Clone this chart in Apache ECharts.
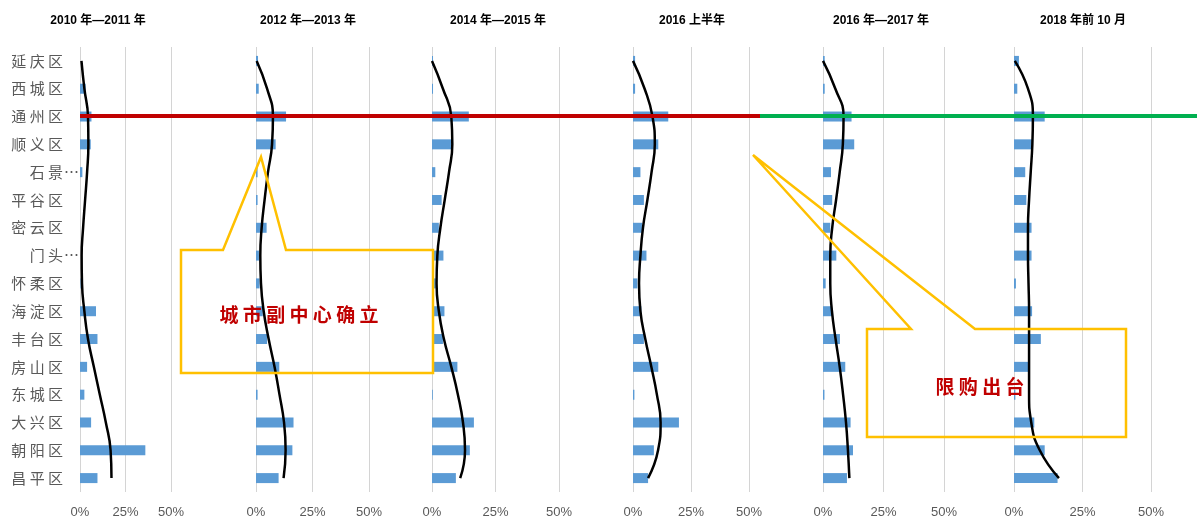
<!DOCTYPE html>
<html>
<head>
<meta charset="utf-8">
<script src="https://cdn.jsdelivr.net/npm/echarts@6.0.0/dist/echarts.min.js"></script>
<style>
  html, body { margin: 0; padding: 0; background: #fff; }
  #main { width: 1203px; height: 527px; }
</style>
</head>
<body>
<div id="main"></div>
<script>
// 各区成交占比（%），从上到下
var districts = ['延庆区', '西城区', '通州区', '顺义区', '石景山区', '平谷区', '密云区', '门头沟区',
  '怀柔区', '海淀区', '丰台区', '房山区', '东城区', '大兴区', '朝阳区', '昌平区'];
var periods = ['2010 年—2011 年', '2012 年—2013 年', '2014 年—2015 年', '2016 上半年', '2016 年—2017 年', '2018 年前 10 月'];
var xTicks = [0, 25, 50];

// 柱子
var share1011 = [0, 3.1, 6.3, 5.9, 1.3, 0, 0, 0, 0.3, 8.8, 9.6, 3.9, 2.4, 6.1, 35.9, 9.6];
var share1213 = [0.9, 1.2, 13.3, 8.7, 0.7, 0.7, 4.7, 1.3, 1.6, 3.0, 4.9, 10.3, 0.7, 16.6, 16.1, 10.0];
var share1415 = [0.4, 0.4, 14.5, 8.2, 1.3, 3.8, 2.7, 4.5, 1.5, 4.9, 4.3, 10.0, 0.3, 16.5, 14.9, 9.4];
var share16h1 = [0.9, 0.9, 15.2, 10.9, 3.2, 4.7, 4.0, 5.8, 1.9, 3.6, 4.7, 10.9, 0.6, 19.8, 9.0, 6.5];
var share1617 = [0.7, 0.7, 11.8, 12.9, 3.3, 3.8, 3.0, 5.5, 1.1, 3.7, 7.0, 9.2, 0.6, 11.4, 12.4, 9.9];
var share18 = [1.8, 1.2, 11.2, 6.7, 4.1, 4.5, 6.4, 6.4, 0.7, 6.6, 9.8, 5.2, 0.5, 7.4, 11.2, 15.9];

// 黑色趋势线
var trend1011 = [0.8, 2.4, 4.4, 4.6, 3.9, 2.8, 1.7, 0.9, 1.1, 2.4, 4.4, 7.6, 10.9, 14.2, 16.8, 17.3];
var trend1213 = [0.3, 4.9, 7.5, 7.1, 5.3, 3.8, 2.5, 1.9, 2.2, 3.4, 5.6, 8.2, 10.4, 12.4, 13.1, 12.2];
var trend1415 = [0, 4.3, 7.6, 8.0, 6.7, 5.0, 3.3, 2.1, 1.8, 2.7, 4.7, 7.6, 10.2, 12.2, 13.0, 11.1];
var trend16h1 = [0, 5.0, 8.4, 9.4, 8.0, 6.2, 4.3, 3.2, 2.6, 3.2, 5.3, 7.9, 10.3, 11.9, 10.8, 6.5];
var trend1617 = [0, 5.1, 8.5, 8.2, 6.9, 5.4, 3.8, 3.0, 3.0, 3.7, 5.2, 6.9, 8.3, 9.5, 10.3, 10.9];
var trend18 = [0.3, 5.1, 6.9, 6.7, 6.1, 5.5, 5.1, 5.1, 5.3, 5.5, 5.5, 5.5, 5.5, 6.3, 9.4, 16.4];

var barSets = [share1011, share1213, share1415, share16h1, share1617, share18];
var trendSets = [trend1011, trend1213, trend1415, trend16h1, trend1617, trend18];

// 每个小图 0% 的位置和到 50% 的宽度，标题中心
var panelLeft = [80, 256, 432, 633, 823, 1014];
var panelWidth = [91, 113, 127, 116, 121, 137];
var titleCenter = [98, 308, 498, 692, 881, 1083];

var chart = echarts.init(document.getElementById('main'));

function spaced(s) {
  return s.split('').join(' ');
}

var titles = [], grids = [], xAxes = [], yAxes = [], series = [];
for (var i = 0; i < periods.length; i++) {
  titles.push({
    text: periods[i],
    left: titleCenter[i] - 5,
    top: 10,
    textAlign: 'center',
    textStyle: { fontSize: 12, fontWeight: 'bold', color: '#000', fontFamily: 'Liberation Sans, Noto Sans CJK SC' }
  });
  grids.push({ left: panelLeft[i], width: panelWidth[i], top: 47, height: 445 });
  xAxes.push({
    gridIndex: i, type: 'value', min: xTicks[0], max: xTicks[xTicks.length - 1], interval: 25,
    axisLine: { show: false }, axisTick: { show: false },
    splitLine: { lineStyle: { color: '#d4d4d4', width: 1 } },
    axisLabel: {
      formatter: function (v) { return v + '%'; },
      color: '#595959', fontSize: 13, margin: 14, fontFamily: 'Liberation Sans'
    }
  });
  yAxes.push({
    gridIndex: i, type: 'category', data: districts, inverse: true,
    axisLine: { show: false }, axisTick: { show: false },
    axisLabel: {
      show: i === 0, margin: 0, color: '#595959', fontSize: 15,
      fontFamily: 'Noto Sans CJK SC',
      formatter: function (name) {
        if (name.length > 3) return '{t|' + spaced(name.slice(0, 2)) + '}{e|…}';
        return '{n|' + spaced(name) + '}';
      },
      rich: {
        n: { padding: [0, 17, 0, 0], color: '#595959', fontSize: 15, fontFamily: 'Noto Sans CJK SC' },
        t: { color: '#595959', fontSize: 15, fontFamily: 'Noto Sans CJK SC' },
        e: { width: 17, align: 'left', color: '#595959', fontSize: 15, fontFamily: 'Noto Sans CJK SC' }
      }
    }
  });
  series.push({
    type: 'bar', xAxisIndex: i, yAxisIndex: i, data: barSets[i],
    barWidth: 10, itemStyle: { color: '#5B9BD5' }, silent: true
  });
  series.push({
    type: 'line', xAxisIndex: i, yAxisIndex: i, data: trendSets[i],
    smooth: true, symbol: 'none', z: 4,
    lineStyle: { color: '#000', width: 2.5 }, silent: true
  });
}

var noteFont = 'Noto Sans CJK SC';
chart.setOption({
  animation: false,
  title: titles,
  grid: grids,
  xAxis: xAxes,
  yAxis: yAxes,
  series: series,
  graphic: [
    { type: 'line', z: 100, shape: { x1: 80, y1: 116, x2: 760, y2: 116 }, style: { stroke: '#C00000', lineWidth: 4 } },
    { type: 'line', z: 100, shape: { x1: 760, y1: 116, x2: 1197, y2: 116 }, style: { stroke: '#00B050', lineWidth: 4 } },
    {
      type: 'polygon', z: 100,
      shape: { points: [[223, 250], [181, 250], [181, 373], [433, 373], [433, 250], [286, 250], [261, 157]] },
      style: { fill: 'none', stroke: '#FFC000', lineWidth: 2.5 }
    },
    {
      type: 'polygon', z: 100,
      shape: { points: [[867, 329], [911, 329], [753, 155], [975, 329], [1126, 329], [1126, 437], [867, 437]] },
      style: { fill: 'none', stroke: '#FFC000', lineWidth: 2.5 }
    },
    {
      type: 'text', z: 101, x: 299, y: 315,
      style: { text: '城 市 副 中 心 确 立', fill: '#C00000', font: 'bold 19px ' + noteFont, textAlign: 'center', textVerticalAlign: 'middle' }
    },
    {
      type: 'text', z: 101, x: 980, y: 387,
      style: { text: '限 购 出 台', fill: '#C00000', font: 'bold 19px ' + noteFont, textAlign: 'center', textVerticalAlign: 'middle' }
    }
  ]
});
</script>
</body>
</html>
